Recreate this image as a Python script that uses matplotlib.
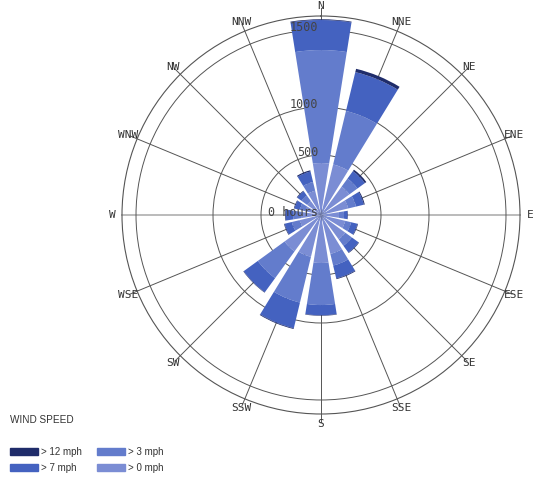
import numpy as np
import matplotlib
matplotlib.use('Agg')
import matplotlib.pyplot as plt
import matplotlib.transforms as mtransforms
from matplotlib.patches import Patch

# ---- data -------------------------------------------------------------
directions = ['N', 'NNE', 'NE', 'ENE', 'E', 'ESE', 'SE', 'SSE',
              'S', 'SSW', 'SW', 'WSE', 'W', 'WNW', 'NW', 'NNW']
# hours per wind speed band (stacked, lightest innermost)
gt0 = [433, 433, 292, 233, 150, 208, 250, 333, 400, 358, 375, 183, 167, 133, 142, 208]
gt3 = [937, 557, 83, 67, 42, 50, 67, 100, 413, 455, 313, 67, 66, 50, 58, 75]
gt7 = [195, 263, 77, 67, 30, 54, 70, 121, 107, 242, 182, 62, 62, 45, 45, 90]
gt12 = [5, 22, 15, 8, 3, 5, 5, 8, 5, 5, 5, 5, 5, 5, 5, 10]
band_labels = ['> 0 mph', '> 3 mph', '> 7 mph', '> 12 mph']
band_colors = ['#7b8dd4', '#637ccc', '#4462c0', '#1f2c6a']
ring_ticks = [0, 500, 1000, 1500]
ring_labels = ['0 hours', '500', '1000', '1500']
r_max = 1591

# radial axis of the original (non-uniform spacing between rings)
scale_v = np.array([0, 500, 1000, 1500, 2000])
scale_p = np.array([0, 60, 108, 185, 262])


def fwd(v):
    return np.interp(v, scale_v, scale_p)


def inv(p):
    return np.interp(p, scale_p, scale_v)


W, H = 555, 486
fig = plt.figure(figsize=(W / 100, H / 100), dpi=100)
cx, cy, R = 321, 215, 199
ax = fig.add_axes([(cx - R) / W, (H - cy - R) / H, 2 * R / W, 2 * R / H],
                  projection='polar')
ax.set_theta_zero_location('N')
ax.set_theta_direction(-1)
ax.set_rscale('function', functions=(fwd, inv))
ax.set_ylim(0, r_max)

n = len(directions)
theta = np.arange(n) * 2 * np.pi / n
width = 2 * np.pi / n * 0.8

# spokes
for i, a in enumerate(theta):
    if directions[i] in ('E', 'W'):
        ax.plot([a, a], [0, r_max], color='#bbbbbb', lw=1.4, zorder=0.5,
                clip_on=False)
    else:
        ax.plot([a, a], [0, 1640], color='#555555', lw=0.7, zorder=0.5,
                clip_on=False)

bands = [gt0, gt3, gt7, gt12]
bottom = np.zeros(n)
for vals, col in zip(bands, band_colors):
    vals = np.array(vals, dtype=float)
    ax.bar(theta, vals, width=width, bottom=bottom, color=col,
           edgecolor='none', zorder=2)
    bottom = bottom + vals

ax.set_xticks([])
ax.set_yticks(ring_ticks[1:])
ax.set_yticklabels([])
ax.grid(False, axis='x')
ax.grid(True, axis='y', color='#555555', lw=0.7)
ax.set_axisbelow(True)
ax.spines['polar'].set_color('#555555')
ax.spines['polar'].set_linewidth(0.8)

# ring labels
off = mtransforms.offset_copy(ax.transData, fig=fig, x=-3, y=3, units='dots')
for v, lab in zip(ring_ticks, ring_labels):
    ax.text(0, v, lab, transform=off, ha='right', va='center',
            family='DejaVu Sans Mono', fontsize=8.5, color='#444444', zorder=5)

# direction labels
r_lab = inv(209)
for a, lab in zip(theta, directions):
    ax.text(a, r_lab, lab, ha='center', va='center', family='DejaVu Sans Mono',
            fontsize=8, color='#333333', clip_on=False)

# legend
fig.text(10 / W, 1 - 420 / H, 'WIND SPEED', ha='left', va='center',
         family='Liberation Sans', fontsize=7.2, color='#333333')
handles = [Patch(color=c) for c in band_colors][::-1]
labels = band_labels[::-1]
fig.legend(handles, labels, ncol=2, loc='upper left',
           bbox_to_anchor=(10 / W, 1 - 447 / H), bbox_transform=fig.transFigure,
           frameon=False, borderpad=0, borderaxespad=0,
           handlelength=2.9, handleheight=0.8, handletextpad=0.3,
           columnspacing=1.5, labelspacing=0.6,
           prop={'family': 'Liberation Sans', 'size': 7}, labelcolor='#333333')

fig.savefig('out.png', dpi=100)
